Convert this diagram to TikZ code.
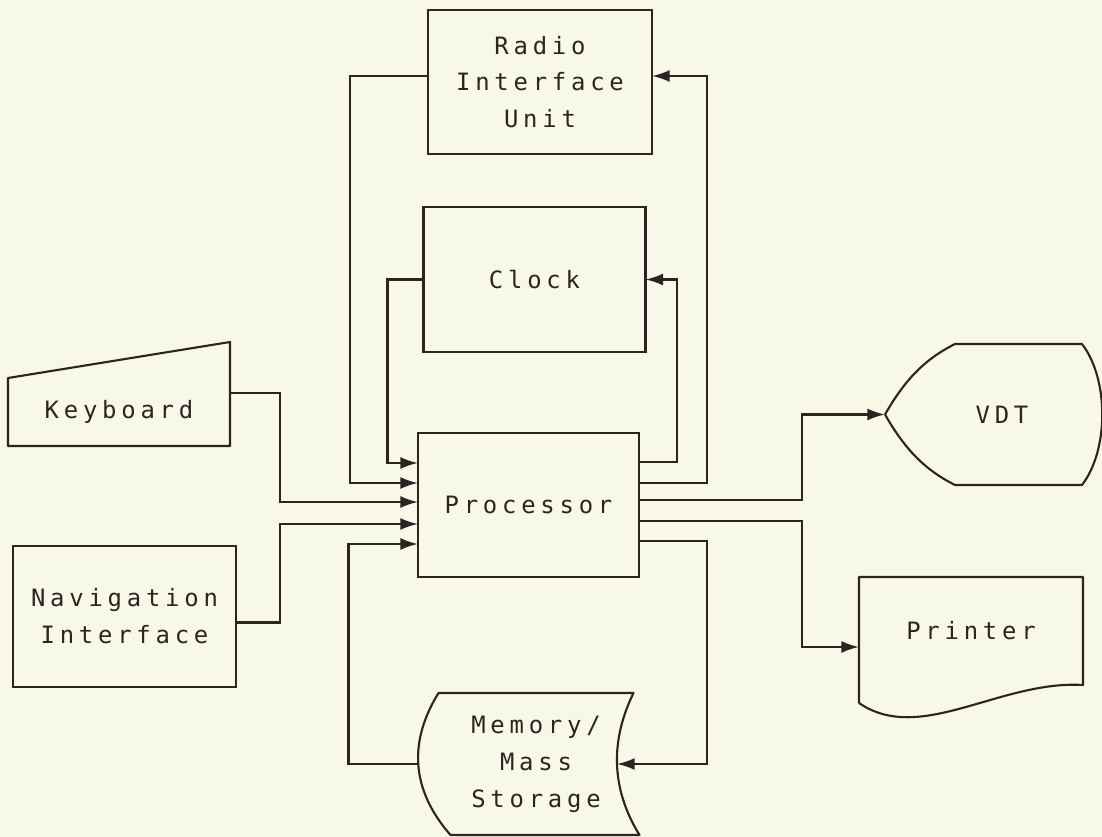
\documentclass[tikz,border=0pt]{standalone}
\usepackage{fontspec}
\usepackage{xcolor}
\usepackage{tikz}
\usetikzlibrary{arrows.meta, positioning}

\newfontfamily\plotter[LetterSpace=20]{DejaVu Sans Mono}
\newcommand\plotfont{\plotter\fontsize{6.8pt}{10.5pt}\selectfont}
\definecolor{paper}{RGB}{248,248,233}
\definecolor{ink}{RGB}{45,36,34}

\begin{document}
\begin{tikzpicture}[
    unit/.style={rectangle, draw=ink, line width=0.6pt, outer sep=0pt,
                 minimum width=2.22cm, minimum height=1.44cm,
                 align=center, font=\plotfont, text=ink},
    device/.style={rectangle, outer sep=0pt, inner sep=0pt,
                 align=center, font=\plotfont, text=ink},
    outline/.style={draw=ink, line width=0.6pt, line join=round},
    arrow/.style={-{Latex[length=5pt, width=3.4pt]}, draw=ink, line width=0.6pt}
]
\fill[paper] (0,0) rectangle (11.02,-8.37);
\useasboundingbox (0,0) rectangle (11.02,-8.37);

\node[unit, minimum width=2.21cm] (proc) at (5.285,-5.05) {Processor};
\node[unit, minimum height=1.45cm, above=0.81cm of proc, xshift=0.06cm] (clock) {Clock};
\node[unit, minimum width=2.24cm, above=0.53cm of clock, xshift=0.055cm] (radio) {Radio\\Interface\\Unit};
\node[device, minimum width=1.95cm, minimum height=1.42cm, below=1.16cm of proc, xshift=0.075cm] (mem) {Memory/\\Mass\\Storage};
\node[device, minimum width=2.22cm, minimum height=0.68cm] (kbd) at (1.19,-4.12) {Keyboard};
\node[unit, minimum width=2.23cm, minimum height=1.41cm] (nav) at (1.245,-6.165) {Navigation\\Interface};
\node[device, minimum width=2.0cm, minimum height=1.41cm] (vdt) at (10.02,-4.145) {VDT};
\node[device, minimum width=2.24cm, minimum height=1.08cm] (prn) at (9.71,-6.31) {Printer};
\coordinate (vdt tip) at ([xshift=-0.17cm]vdt.west);

\draw[outline] (kbd.south west) -- (kbd.north west) -- ([yshift=0.36cm]kbd.north east) -- (kbd.south east) -- cycle;
\draw[outline] (vdt tip) .. controls +(0.2,0.35) and +(-0.3,-0.15) .. ([xshift=0.53cm]vdt.north west)
    -- ([xshift=-0.2cm]vdt.north east) .. controls +(0.27,-0.35) and +(0.27,0.35) .. ([xshift=-0.2cm]vdt.south east)
    -- ([xshift=0.53cm]vdt.south west) .. controls +(-0.3,0.15) and +(0.2,-0.35) .. (vdt tip);
\draw[outline] ([yshift=-0.18cm]prn.south west) -- (prn.north west) -- (prn.north east) -- (prn.south east)
    .. controls +(-0.83,0.05) and +(0.61,-0.42) .. ([yshift=-0.18cm]prn.south west);
\draw[outline] (mem.north west) .. controls +(-0.29,-0.47) and +(-0.41,0.47) .. ([xshift=0.12cm]mem.south west)
    -- ([xshift=0.06cm]mem.south east) .. controls +(-0.29,0.47) and +(-0.23,-0.47) .. (mem.north east) -- cycle;

\draw[arrow] ([yshift=0.19cm]kbd.east) -- ++(0.5,0) |- ([yshift=0.03cm]proc.west);
\draw[arrow] ([yshift=-0.06cm]nav.east) -- ++(0.44,0) |- ([yshift=-0.19cm]proc.west);
\draw[arrow] (clock.west) -- ++(-0.36,0) |- ([yshift=0.42cm]proc.west);
\draw[arrow] ([yshift=0.06cm]radio.west) -- ++(-0.78,0) |- ([yshift=0.22cm]proc.west);
\draw[arrow] ([xshift=-0.2cm]mem.west) -- ++(-0.7,0) |- ([yshift=-0.39cm]proc.west);
\draw[arrow] ([yshift=0.43cm]proc.east) -- ++(0.38,0) |- (clock.east);
\draw[arrow] ([yshift=0.22cm]proc.east) -- ++(0.68,0) |- ([yshift=0.06cm]radio.east);
\draw[arrow] ([yshift=0.05cm]proc.east) -- ++(1.63,0) |- (vdt tip);
\draw[arrow] ([yshift=-0.16cm]proc.east) -- ++(1.63,0) |- ([yshift=-0.16cm]prn.west);
\draw[arrow] ([yshift=-0.36cm]proc.east) -- ++(0.68,0) |- ([xshift=-0.165cm]mem.east);
\end{tikzpicture}
\end{document}
